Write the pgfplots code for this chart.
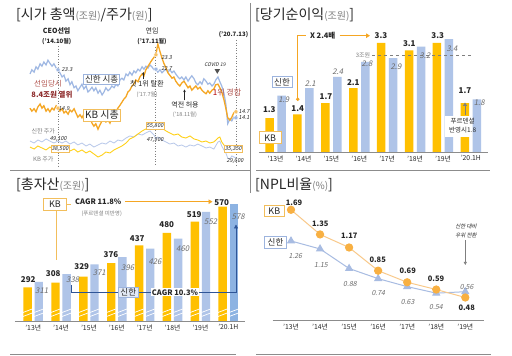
\documentclass[border=0pt]{standalone}
\usepackage{fontspec}
\setmainfont{Noto Sans CJK KR}[ItalicFont={Noto Sans CJK KR}, ItalicFeatures={FakeSlant=0.2}]
\usepackage{pgfplots}
\pgfplotsset{compat=1.18}
\usetikzlibrary{arrows.meta}
\definecolor{gold}{HTML}{FFC000}
\definecolor{lblue}{HTML}{AFC4E8}
\definecolor{darkbar}{HTML}{8DB3E2}
\definecolor{kbcap}{HTML}{F5A623}
\definecolor{shcap}{HTML}{9FB8E3}
\definecolor{kbstk}{HTML}{FFD11A}
\definecolor{shstk}{HTML}{B8C8EA}
\definecolor{txt}{HTML}{262626}
\definecolor{gtxt}{HTML}{7F7F7F}
\definecolor{dred}{HTML}{8E2B2B}
\definecolor{bred}{HTML}{B0504A}
\definecolor{kbbox}{HTML}{F2BE5C}
\definecolor{shbox}{HTML}{9DB4DE}
\definecolor{dblue}{HTML}{2F5597}
\definecolor{npo}{HTML}{F8B042}
\definecolor{npol}{HTML}{F9C98A}
\definecolor{npb}{HTML}{A8BCE2}
\definecolor{rule}{HTML}{8C8C8C}
\tikzset{
 kbv/.style={font=\fontsize{8}{9}\selectfont\bfseries, text=txt, inner sep=0pt},
 shv/.style={font=\fontsize{7.8}{9}\selectfont\itshape, text=gtxt!85!black, inner sep=0pt},
 kbb/.style={draw=kbbox, fill=white, line width=0.8pt, inner sep=1.4pt, text=txt},
 shb/.style={draw=shbox, fill=white, line width=0.8pt, inner sep=1.4pt, text=txt},
 px/.style={y=-1pt, yshift=356pt},
}
\pgfplotsset{tl/.style={xticklabel style={font=\fontsize{6.8}{8}\selectfont, text=txt}, major tick length=0pt}}
\begin{document}
\begin{tikzpicture}[x=1pt,y=1pt]
\fill[white] (0pt,0pt) rectangle (512pt,356pt);
\begin{scope}[px]
% ---------- dividers
\draw[rule, line width=0.7pt] (10,170) -- (250,170);
\draw[rule, line width=0.7pt] (256,170) -- (490,170);
\draw[rule, line width=0.7pt] (250,3) -- (250,193);
\draw[rule, line width=0.7pt] (10,354.5) -- (236,354.5);
\draw[rule, line width=0.7pt] (256,354.5) -- (491,354.5);
\draw[gtxt, dotted, line width=0.6pt] (58,46) -- (58,166);
\draw[gtxt, dotted, line width=0.6pt] (155,47) -- (155,166);
\draw[gtxt, dotted, line width=0.6pt] (236,40) -- (236,166);
\end{scope}
% ================= PANEL 1 =================
\begin{axis}[at={(30pt,191pt)}, anchor=south west, scale only axis, width=210pt, height=135pt,
  xmin=2013.94, xmax=2020.61, ymin=23275, ymax=140050, axis lines=none, clip=false]
\addplot[shstk, line width=0.8pt] coordinates {(2013.94,44000)(2014.07,42300)(2014.19,44900)(2014.32,43200)(2014.45,45800)(2014.57,44000)(2014.70,42300)(2014.83,44000)(2014.96,42300)(2015.08,44000)(2015.21,41400)(2015.34,43200)(2015.46,40600)(2015.59,42300)(2015.72,39700)(2015.84,41400)(2015.97,38800)(2016.10,40600)(2016.23,42300)(2016.35,41400)(2016.48,44000)(2016.61,42300)(2016.73,44900)(2016.86,44000)(2016.99,46600)(2017.11,48400)(2017.24,47500)(2017.37,50100)(2017.50,49200)(2017.62,51000)(2017.75,52700)(2017.88,49200)(2017.94,45800)(2018.00,47500)(2018.13,44900)(2018.26,43200)(2018.38,41400)(2018.51,42300)(2018.64,39700)(2018.76,40600)(2018.89,38800)(2019.02,40600)(2019.15,39700)(2019.27,41400)(2019.40,39700)(2019.53,38000)(2019.65,38800)(2019.78,37100)(2019.91,43200)(2019.97,44000)(2020.03,39700)(2020.10,36300)(2020.16,33700)(2020.22,29300)(2020.29,28500)(2020.35,31100)(2020.48,29300)};
\addplot[kbstk, line width=0.9pt] coordinates {(2013.94,38800)(2014.07,37100)(2014.19,39700)(2014.32,38000)(2014.45,36300)(2014.57,38800)(2014.70,37100)(2014.83,38000)(2014.96,36300)(2015.08,38000)(2015.21,35400)(2015.34,37100)(2015.46,34500)(2015.59,36300)(2015.72,33700)(2015.84,35400)(2015.97,32800)(2016.10,30200)(2016.23,31900)(2016.35,34500)(2016.48,33700)(2016.61,36300)(2016.73,38000)(2016.86,39700)(2016.99,42300)(2017.11,45800)(2017.24,47500)(2017.37,50100)(2017.50,52700)(2017.62,54400)(2017.75,57000)(2017.88,56100)(2018.00,57900)(2018.13,55300)(2018.26,52700)(2018.38,51000)(2018.51,49200)(2018.64,50100)(2018.76,47500)(2018.89,46600)(2019.02,48400)(2019.15,45800)(2019.27,44900)(2019.40,43200)(2019.53,44000)(2019.65,42300)(2019.78,43200)(2019.91,46600)(2019.97,47500)(2020.03,43200)(2020.10,40600)(2020.16,38000)(2020.22,34500)(2020.29,35400)(2020.35,37100)(2020.48,37100)};
\end{axis}
\begin{axis}[at={(30pt,191pt)}, anchor=south west, scale only axis, width=210pt, height=135pt,
  xmin=2013.94, xmax=2020.61, ymin=5.83, ymax=28.33, axis lines=none, clip=false]
\addplot[shcap, line width=1.2pt] coordinates {(2013.94,21.0)(2014.00,21.7)(2014.07,21.3)(2014.13,22.2)(2014.19,21.8)(2014.26,22.7)(2014.32,22.3)(2014.38,23.0)(2014.45,22.5)(2014.51,23.3)(2014.57,22.8)(2014.64,22.3)(2014.70,22.7)(2014.77,22.0)(2014.83,21.7)(2014.89,21.2)(2014.96,20.5)(2015.02,20.8)(2015.08,19.8)(2015.15,20.2)(2015.21,19.2)(2015.27,19.7)(2015.34,18.7)(2015.40,19.0)(2015.46,18.2)(2015.53,18.8)(2015.59,19.3)(2015.65,18.5)(2015.72,19.0)(2015.78,18.0)(2015.84,18.3)(2015.91,18.8)(2015.97,18.2)(2016.03,18.7)(2016.10,17.8)(2016.16,18.3)(2016.23,17.5)(2016.29,18.0)(2016.35,18.7)(2016.42,18.2)(2016.48,18.5)(2016.54,19.0)(2016.61,18.7)(2016.67,19.3)(2016.73,19.0)(2016.80,20.0)(2016.86,20.3)(2016.92,20.0)(2016.99,21.0)(2017.05,20.7)(2017.11,21.3)(2017.18,20.8)(2017.24,21.5)(2017.30,21.2)(2017.37,21.8)(2017.43,21.5)(2017.50,22.2)(2017.56,21.8)(2017.62,22.3)(2017.69,22.0)(2017.75,22.5)(2017.81,22.2)(2017.88,21.7)(2017.94,21.8)(2018.00,21.3)(2018.07,21.7)(2018.13,21.2)(2018.19,21.5)(2018.26,21.8)(2018.32,21.3)(2018.38,21.7)(2018.45,21.2)(2018.51,21.5)(2018.57,21.0)(2018.64,20.5)(2018.70,20.2)(2018.76,20.5)(2018.83,20.0)(2018.89,20.5)(2018.96,19.8)(2019.02,20.3)(2019.08,20.7)(2019.15,20.2)(2019.21,19.5)(2019.27,19.2)(2019.34,19.7)(2019.40,19.3)(2019.46,20.2)(2019.53,19.8)(2019.59,19.3)(2019.65,19.5)(2019.72,19.0)(2019.78,19.3)(2019.84,20.0)(2019.91,20.5)(2019.97,19.7)(2020.03,19.0)(2020.10,17.8)(2020.16,16.0)(2020.22,12.7)(2020.29,13.5)(2020.35,13.2)(2020.41,13.8)(2020.48,13.7)};
\addplot[kbcap, line width=1.3pt] coordinates {(2013.94,15.3)(2014.00,14.8)(2014.07,15.2)(2014.13,14.7)(2014.19,15.5)(2014.26,16.0)(2014.32,15.3)(2014.38,15.7)(2014.45,14.8)(2014.51,15.2)(2014.57,14.7)(2014.64,15.3)(2014.70,15.0)(2014.77,15.7)(2014.83,15.3)(2014.89,14.8)(2014.96,15.2)(2015.02,14.5)(2015.08,14.8)(2015.15,14.3)(2015.21,15.0)(2015.27,14.7)(2015.34,15.2)(2015.40,14.5)(2015.46,13.8)(2015.53,14.2)(2015.59,13.7)(2015.65,14.3)(2015.72,14.0)(2015.78,13.3)(2015.84,13.7)(2015.91,12.8)(2015.97,12.3)(2016.03,12.7)(2016.10,11.8)(2016.16,12.5)(2016.23,13.2)(2016.29,13.5)(2016.35,13.0)(2016.42,13.3)(2016.48,12.8)(2016.54,13.7)(2016.61,14.3)(2016.67,14.7)(2016.73,15.3)(2016.80,15.8)(2016.86,16.3)(2016.92,16.8)(2016.99,17.2)(2017.05,18.0)(2017.11,18.3)(2017.18,19.0)(2017.24,19.3)(2017.30,20.0)(2017.37,19.7)(2017.43,20.5)(2017.50,21.0)(2017.56,20.7)(2017.62,21.7)(2017.69,22.3)(2017.75,22.8)(2017.81,23.3)(2017.88,23.8)(2017.94,24.2)(2018.00,26.0)(2018.07,24.7)(2018.13,23.7)(2018.19,22.8)(2018.26,22.0)(2018.32,21.2)(2018.38,20.8)(2018.45,20.3)(2018.51,20.5)(2018.57,19.8)(2018.64,19.3)(2018.70,19.0)(2018.76,19.5)(2018.83,19.8)(2018.89,19.3)(2018.96,18.7)(2019.02,19.0)(2019.08,18.3)(2019.15,18.7)(2019.21,19.0)(2019.27,18.5)(2019.34,18.8)(2019.40,18.3)(2019.46,18.0)(2019.53,17.7)(2019.59,18.2)(2019.65,17.8)(2019.72,18.3)(2019.78,18.5)(2019.84,19.2)(2019.91,19.3)(2019.97,18.7)(2020.03,18.0)(2020.10,16.7)(2020.16,15.3)(2020.22,13.7)(2020.29,13.3)(2020.35,13.8)(2020.41,14.5)(2020.48,14.7)};
\addplot[only marks, mark=*, mark size=2.1pt, mark options={fill=shcap, draw=white, line width=0.4pt}] coordinates {(2014.83,21.7)(2017.94,21.8)(2020.48,13.7)};
\addplot[only marks, mark=*, mark size=2.1pt, mark options={fill=kbcap!70, draw=white, line width=0.4pt}] coordinates {(2014.83,15.3)(2017.94,24.2)(2020.48,14.7)};
\end{axis}
% ================= PANEL 2 =================
\begin{axis}[at={(258.8pt,204pt)}, anchor=south west, scale only axis, width=228.8pt, height=122pt,
  xmin=-0.6, xmax=7.6, ymin=0.4, ymax=3.645, axis x line=bottom, axis y line=none,
  x axis line style={-, draw=rule, line width=0.8pt}, tl,
  xtick={0,...,7}, xticklabels={'13년,'14년,'15년,'16년,'17년,'18년,'19년,'20.1H},
  ybar, bar width=8.5pt]
\addplot[fill=gold, draw=none, bar shift=-6pt] coordinates {(0,1.3)(1,1.4)(2,1.7)(3,2.1)(4,3.3)(5,3.1)(6,3.3)(7,1.7)};
\addplot[fill=lblue, draw=none, bar shift=6pt] coordinates {(0,1.9)(1,2.1)(2,2.4)(3,2.8)(4,2.9)(5,3.2)(6,3.4)(7,1.8)};
\end{axis}
% ================= PANEL 3 =================
\begin{axis}[at={(15pt,35pt)}, anchor=south west, scale only axis, width=230pt, height=126pt,
  xmin=-0.653, xmax=7.60, ymin=176, ymax=610.5, axis x line=bottom, axis y line=none,
  x axis line style={-, draw=rule, line width=0.8pt}, tl,
  xtick={0,...,7}, xticklabels={'13년,'14년,'15년,'16년,'17년,'18년,'19년,'20.1H},
  ybar, bar width=8.4pt]
\addplot[fill=gold, draw=none, bar shift=-5.6pt] coordinates {(0,292)(1,308)(2,329)(3,376)(4,437)(5,480)(6,519)(7,570)};
\addplot[fill=lblue, draw=none, bar shift=5.6pt] coordinates {(0,311)(1,338)(2,371)(3,396)(4,426)(5,460)(6,552)};
\addplot[fill=darkbar, draw=none, bar shift=5.6pt] coordinates {(7,578)};
\end{axis}
% ================= PANEL 4 =================
\begin{axis}[at={(272.7pt,35.3pt)}, anchor=south west, scale only axis, width=211.6pt, height=125.7pt,
  xmin=-0.63, xmax=6.654, ymin=0.16, ymax=1.894, axis x line=bottom, axis y line=none,
  x axis line style={-, draw=rule, line width=0.8pt}, tl,
  xtick={0,...,6}, xticklabels={'13년,'14년,'15년,'16년,'17년,'18년,'19년}, clip=false]
\addplot[npb, line width=1pt, mark=triangle*, mark size=3.8pt, mark options={fill=npb, draw=npb}] coordinates {(0,1.26)(1,1.15)(2,0.88)(3,0.74)(4,0.63)(5,0.54)(6,0.56)};
\addplot[npol, line width=1pt, mark=*, mark size=3.6pt, mark options={fill=npo, draw=npo}] coordinates {(0,1.69)(1,1.35)(2,1.17)(3,0.85)(4,0.69)(5,0.59)(6,0.48)};
\end{axis}
% ================= ANNOTATIONS =================
\begin{scope}[px]
% panel 1
\node[anchor=west, inner sep=0pt, text=txt] at (16,15) {\fontsize{14}{16}\selectfont [시가 총액{\color{gtxt}\fontsize{10}{12}\selectfont(조원)}/주가{\color{gtxt}\fontsize{10}{12}\selectfont(원)}]};
\node[font=\fontsize{7}{8}\selectfont\bfseries, text=txt, inner sep=0pt] at (56.7,30.7) {CEO선임};
\node[font=\fontsize{6}{7}\selectfont\bfseries, text=txt, inner sep=0pt] at (56.7,41.7) {('14.10월)};
\node[font=\fontsize{7}{8}\selectfont, text=txt, inner sep=0pt] at (152,30.7) {연임};
\node[font=\fontsize{6}{7}\selectfont\bfseries, text=txt, inner sep=0pt] at (152,41.7) {('17.11월)};
\node[font=\fontsize{6}{7}\selectfont\bfseries, text=txt, inner sep=0pt] at (233.5,35) {('20.7.13)};
\node[font=\fontsize{5.5}{6}\selectfont\itshape, text=txt, inner sep=0pt] at (67,69.5) {23.3};
\node[font=\fontsize{7.5}{8}\selectfont, text=bred, inner sep=0pt] at (48,84) {선임당시};
\node[font=\fontsize{7.5}{8}\selectfont\bfseries, text=dred, inner sep=0pt] at (52,94.5) {8.4조원 열위};
\node[shb, font=\fontsize{8.5}{9}\selectfont] at (101.7,79.3) {신한 시총};
\node[kbb, font=\fontsize{10}{11}\selectfont] at (102,115) {KB 시총};
\node[font=\fontsize{5.5}{6}\selectfont\itshape, text=txt, inner sep=0pt] at (64,108.3) {14.9};
\node[font=\fontsize{7.2}{8}\selectfont, text=txt, inner sep=0pt] at (147,84) {첫 1위 탈환};
\node[font=\fontsize{5.5}{6}\selectfont, text=gtxt, inner sep=0pt] at (147,95) {('17.7월)};
\draw[txt, line width=0.5pt, -{Stealth[length=2.5pt,width=2.5pt]}] (143.3,79.5) -- (143.3,72);
\node[font=\fontsize{5.5}{6}\selectfont\itshape, text=txt, inner sep=0pt] at (166.7,58) {23.3};
\node[font=\fontsize{5.5}{6}\selectfont\itshape, text=txt, inner sep=0pt] at (166.7,68.3) {22.7};
\node[font=\fontsize{5}{6}\selectfont\itshape, text=txt, inner sep=0pt] at (215,64.3) {COVID 19};
\fill[txt!80] (214.6,69.2) -- (220,69.2) -- (217.3,73.8) -- cycle;
\node[font=\fontsize{8}{9}\selectfont, text=bred, inner sep=0pt] at (227,92) {{\color{red!70!black}1}위 경합};
\node[font=\fontsize{7}{8}\selectfont, text=txt, inner sep=0pt] at (185,105) {역전 허용};
\node[font=\fontsize{5.5}{6}\selectfont, text=gtxt, inner sep=0pt] at (185,114.3) {('18.11월)};
\draw[txt, line width=0.5pt, -{Stealth[length=2.5pt,width=2.5pt]}] (184.5,100.5) -- (184.5,89.5);
\node[font=\fontsize{5.5}{6}\selectfont\itshape, text=txt, inner sep=0pt, anchor=west] at (238.5,111.5) {14.7};
\node[font=\fontsize{5.5}{6}\selectfont\itshape, text=txt, inner sep=0pt, anchor=west] at (238.5,118) {14.1};
\node[font=\fontsize{6}{7}\selectfont, text=gtxt, inner sep=0pt] at (43.3,131.7) {신한 주가};
\node[font=\fontsize{5.5}{6}\selectfont\itshape, text=txt, inner sep=0pt] at (58.3,139) {49,100};
\node[kbb, line width=0.5pt, inner sep=0.8pt, font=\fontsize{5.5}{6}\selectfont\itshape] at (60,149) {38,500};
\node[font=\fontsize{6}{7}\selectfont, text=gtxt, inner sep=0pt] at (43.3,159.3) {KB 주가};
\node[kbb, line width=0.5pt, inner sep=0.8pt, font=\fontsize{5.5}{6}\selectfont\itshape] at (155,125.7) {55,800};
\node[font=\fontsize{5.5}{6}\selectfont\itshape, text=txt, inner sep=0pt] at (155,140) {47,900};
\node[kbb, line width=0.5pt, inner sep=0.8pt, font=\fontsize{5.5}{6}\selectfont\itshape] at (233.3,149) {35,350};
\node[font=\fontsize{5.5}{6}\selectfont\itshape, text=txt, inner sep=0pt] at (235,160.7) {29,600};
% panel 2
\node[anchor=west, inner sep=0pt, text=txt] at (255,15) {\fontsize{14}{16}\selectfont [당기순이익{\color{gtxt}\fontsize{10}{12}\selectfont(조원)}]};
\draw[gtxt, dashed, line width=0.6pt] (372,55.7) -- (472,55.7);
\node[font=\fontsize{6}{7}\selectfont, text=gtxt, fill=white, inner sep=0.5pt] at (363,55.7) {3조원};
\draw[kbcap, line width=0.8pt, {Circle[length=3.5pt]}-] (297.7,101) -- (297.7,35.7) -- (306,35.7);
\node[font=\fontsize{7.5}{8}\selectfont\bfseries, text=txt, inner sep=0pt] at (322.7,35.7) {X 2.4배};
\draw[kbcap, line width=0.8pt, -{Triangle[length=4pt,width=4.5pt]}] (339.5,35.7) -- (370,35.7);
\foreach \xx/\yy/\tt in {269.3/110/1.3, 297.7/108.3/1.4, 326/96.7/1.7, 353.3/82.7/2.1, 381/35.7/3.3, 409.3/44/3.1, 437.7/35.7/3.3, 465/90.7/1.7}
  \node[kbv] at (\xx,\yy) {\tt};
\foreach \xx/\yy/\tt in {283.7/99.3/1.9, 310.3/83.3/2.1, 337.7/71.7/2.4, 367/63.3/2.8, 396/66.7/2.9, 425/56/3.2, 452/48.3/3.4, 479.3/102.7/1.8}
  \node[shv] at (\xx,\yy) {\tt};
\fill[white] (445,116) rectangle (472.3,137);
\node[font=\fontsize{6.5}{7}\selectfont, text=txt, inner sep=0pt] at (462.7,121) {푸르덴셜};
\node[font=\fontsize{6.5}{7}\selectfont, text=txt, inner sep=0pt] at (462.7,130.5) {반영시1.8};
\draw[gtxt, line width=0.8pt, -{Triangle[length=3.5pt,width=4pt]}] (465,115) -- (465,102.5);
\node[shb, font=\fontsize{8.5}{9}\selectfont, minimum width=20pt, minimum height=11.5pt, inner sep=0pt] at (282,81.8) {신한};
\node[kbb, font=\fontsize{9}{10}\selectfont, minimum width=21.5pt, minimum height=12pt, inner sep=0pt] at (270.2,137.8) {KB};
% panel 3
\node[anchor=west, inner sep=0pt, text=txt] at (16,185) {\fontsize{14}{16}\selectfont [총자산{\color{gtxt}\fontsize{10}{12}\selectfont(조원)}]};
\foreach \c in {27.6,55.5,83.3,111.2,139,166.9,194.8,222.6,38.8,66.7,94.5,122.4,150.2,178.1,206,233.8}{
  \draw[white, line width=0.7pt] (\c-4.6,312.5) -- (\c+4.6,309);
  \draw[white, line width=0.7pt] (\c-4.6,316.5) -- (\c+4.6,313);
}
\foreach \xx/\yy/\tt in {28.3/280/292, 53.3/273.3/308, 81.7/266.7/329, 111/254.3/376, 137.3/239/437, 166.7/224.3/480, 194.3/214.3/519, 221.7/202.3/570}
  \node[kbv] at (\xx,\yy) {\tt};
\foreach \xx/\yy/\tt in {41.7/291/311, 72.7/279.3/338, 99.3/272.3/371, 127.7/267.3/396, 155/261.7/426, 182.7/249/460, 210.7/221.7/552, 238.3/216.7/578}
  \node[shv] at (\xx,\yy) {\tt};
\draw[kbbox, line width=0.8pt] (56.7,210) -- (56.7,260);
\draw[kbbox, line width=0.8pt] (66.7,204.2) -- (71,204.2);
\node[kbb, font=\fontsize{9}{10}\selectfont, minimum width=23.4pt, minimum height=11.7pt, inner sep=0pt] at (55,204.2) {KB};
\node[font=\fontsize{7.5}{8}\selectfont\bfseries, text=txt, inner sep=0pt] at (98.3,201.7) {CAGR 11.8\%};
\node[font=\fontsize{5.5}{6}\selectfont, text=gtxt, inner sep=0pt] at (101.7,213.3) {(푸르덴셜 미반영)};
\draw[kbcap, line width=0.8pt, -{Triangle[length=4pt,width=4.5pt]}] (125,201.7) -- (212.5,201.7);
\draw[dblue, line width=0.7pt, -{Triangle[length=4pt,width=4pt]}] (71,285) -- (71,292.3) -- (236,292.3) -- (236,224.5);
\node[draw=shbox, fill=lblue!35, line width=0.6pt, font=\fontsize{8.5}{9}\selectfont, text=txt, minimum width=20pt, minimum height=10.5pt, inner sep=0pt] at (128.3,292.5) {신한};
\node[font=\fontsize{7.5}{8}\selectfont\bfseries, text=txt, fill=white, inner sep=1pt] at (175,292.3) {CAGR 10.3\%};
% panel 4
\node[anchor=west, inner sep=0pt, text=txt] at (255,185) {\fontsize{14}{16}\selectfont [NPL비율{\color{gtxt}\fontsize{10}{12}\selectfont(\%)}]};
\foreach \xx/\yy/\tt in {294/202.3/1.69, 320.3/223.3/1.35, 349.3/236/1.17, 377.7/259.3/0.85, 407.7/270.7/0.69, 436/278.3/0.59, 466.7/307.7/0.48}
  \node[kbv, font=\fontsize{7.5}{8}\selectfont\bfseries] at (\xx,\yy) {\tt};
\foreach \xx/\yy/\tt in {295.3/256/1.26, 321/265/1.15, 350/284.3/0.88, 378.3/292.7/0.74, 407.7/301.7/0.63, 436/307.3/0.54, 466.7/286.7/0.56}
  \node[shv, font=\fontsize{7}{8}\selectfont\itshape] at (\xx,\yy) {\tt};
\node[kbb, font=\fontsize{9}{10}\selectfont, minimum width=20pt, minimum height=11.5pt, inner sep=0pt] at (274.3,210.8) {KB};
\node[shb, font=\fontsize{8.5}{9}\selectfont, minimum width=22pt, minimum height=11.5pt, inner sep=0pt] at (275.5,242.5) {신한};
\node[font=\fontsize{5.5}{6}\selectfont\itshape, text=txt, inner sep=0pt] at (466,226.5) {신한 대비};
\node[font=\fontsize{5.5}{6}\selectfont\itshape, text=txt, inner sep=0pt] at (466,235) {우위 전환};
\draw[gtxt, line width=0.6pt, -{Triangle[length=3pt,width=3pt]}] (465.3,240.5) -- (465.3,265);
\end{scope}
\pgfresetboundingbox
\path[use as bounding box] (0pt,0pt) rectangle (512pt,356pt);
\end{tikzpicture}
\end{document}
